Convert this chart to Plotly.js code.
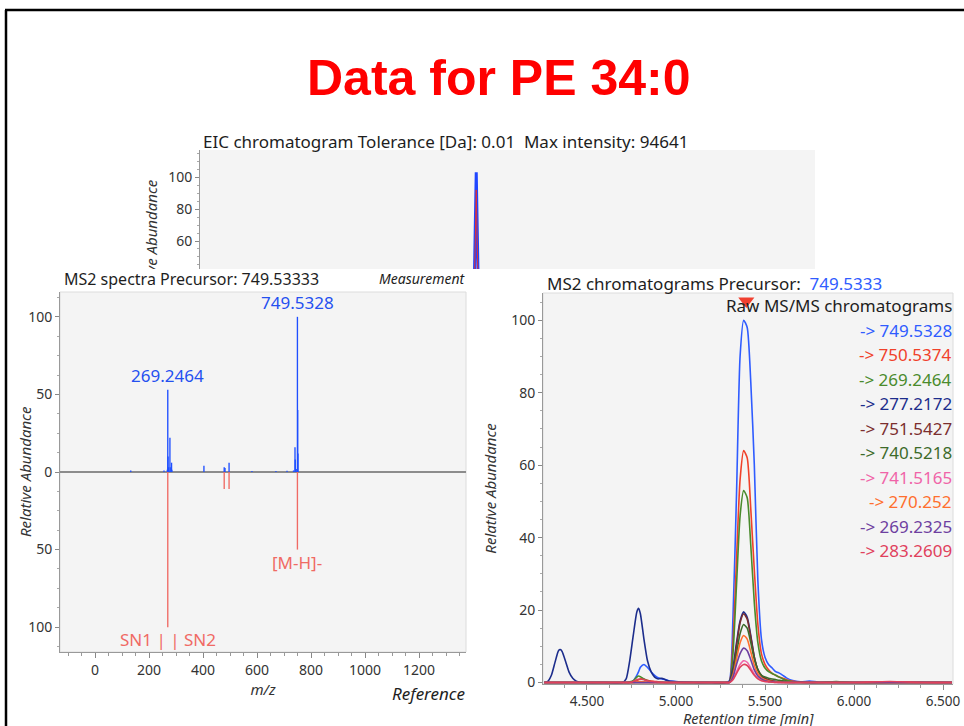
<!DOCTYPE html>
<html><head><meta charset="utf-8">
<script src="https://cdn.plot.ly/plotly-3.0.1.min.js"></script>
<style>
html,body{margin:0;padding:0;background:#fff;width:964px;height:726px;overflow:hidden}
#eic{position:absolute;left:0;top:0;width:964px;height:269px;overflow:hidden}
#eicplot{width:964px;height:726px}
#main{position:absolute;left:0;top:0;width:964px;height:726px}
</style></head><body>
<div id="eic"><div id="eicplot"></div></div>
<div id="main"></div>
<script>
// ---------- DATA ----------
const mainTitle = 'Data for PE 34:0';
const eicTitle = 'EIC chromatogram Tolerance [Da]: 0.01  Max intensity: 94641';
const eicRt   = [0, 5.30, 5.35, 5.39, 5.43, 5.48, 12];
const eicBlue = [0, 0, 30, 103, 30, 0, 0];
const eicRed  = [0, 0, 25, 92, 25, 0, 0];
const eicTicks = [60, 80, 100];

const spectraTitle = 'MS2 spectra Precursor: 749.53333';
const measMz  = [132.1, 255.23, 267.5, 269.2464, 270.25, 271.25, 277.2172, 278.22, 283.2609, 284.27, 403.2, 478.3, 481.3, 496.3, 581, 670, 711, 735, 740.5218, 741.52, 745, 749.5328, 750.5374, 751.5427];
const measInt = [1, 1, 1.5, 53, 10, 3, 22, 3, 6, 1.5, 4, 3, 2.5, 6, 0.7, 0.7, 0.8, 1, 16, 8, 2, 100, 40, 12];
const refMz   = [269.2464, 478.3, 496.3, 749.5328];
const refInt  = [-100, -11, -11, -50];
const peakLabelMz  = [269.2464, 749.5328];
const peakLabelInt = [53, 100];
const peakLabelTxt = ['269.2464', '749.5328'];
const refLabels = [{mz: 749.5328, y: -58, text: '[M-H]-'}, {mz: 269.2464, y: -108, text: 'SN1 | | SN2'}];
const spectraTickVals = [-100, -50, 0, 50, 100];
const spectraTickText = ['100', '50', '0', '50', '100'];

const chromTitle = 'MS2 chromatograms Precursor:  ';
const precursor = '749.5333';
const precursorRt = 5.395;
const rt = [4.26,4.28,4.30,4.32,4.34,4.35,4.36,4.38,4.40,4.42,4.44,4.46,4.50,
            4.60,4.70,
            4.72,4.74,4.76,4.78,4.79,4.80,4.82,4.84,4.86,4.88,4.90,4.92,4.94,4.96,
            5.00,5.10,5.20,5.28,
            5.30,5.32,5.34,5.36,5.38,5.40,5.42,5.44,5.46,5.48,5.50,5.52,5.54,5.56,5.58,5.60,5.62,5.65,
            5.70,5.75,5.80,5.90,6.00,6.20,6.40,6.55];
const s749 = [0,0,0,0,0,0,0,0,0,0,0,0,0, 0,0,
  0,0,0.5,2,3,4.2,5,4.2,3,2,1.3,1,0.8,0.5, 0.3,0.1,0,0,
  0.5,18,52,90,100,98,83,60,28,12,7,5,4,3,2.6,2,1.3,0.6, 0.2,0.4,0.1,0.1,0,0.2,0.1,0];
const s750 = [0,0,0,0,0,0,0,0,0,0,0,0,0, 0,0,
  0,0,0.2,0.5,0.8,1,0.9,0.6,0.4,0.3,0.2,0.1,0,0, 0,0,0,0,
  0.2,11,34,56,64,62,48,31,16,8,5,3.5,2.5,2,1.5,1.2,0.8,0.4, 0.1,0,0,0,0,0,0,0];
const s269a = [0,0,0,0,0,0,0,0,0,0,0,0,0, 0,0,
  0,0.2,0.5,1.5,1.8,1.6,1,0.5,0.2,0.1,0,0,0,0, 0,0,0,0,
  0.1,8,27,46,53,51,38,22,11,6,4,3,2.5,2,1.5,1,0.6,0.3, 0.1,0,0,0.3,0,0,0,0];
const s277 = [0,0.3,2,5.5,8.8,9.1,8.6,5.8,2.8,1.2,0.4,0.1,0, 0,0,
  1,6,13,19.5,20.5,19,12,6,3,1.5,1,1.2,0.8,0.4, 0.2,0,0,0,
  0.3,4,11,17,19.5,18,13,7,3.5,1.8,1,0.6,0.4,0.3,0.2,0.2,0.1,0, 0.2,0,0,0,0,0,0,0];
const s751 = [0,0,0,0,0,0,0,0,0,0,0,0,0, 0,0,
  0,0,0,0,0,0,0,0,0,0,0,0,0,0, 0,0,0,0,
  0.1,3,10,16.5,19,17.5,12.5,7,3.5,2,1.2,0.8,0.5,0.3,0.2,0.1,0,0, 0,0,0,0,0,0,0,0];
const s740 = [0,0,0,0,0,0,0,0,0,0,0,0,0, 0,0,
  0,0,0,0,0,0,0,0,0,0,0,0,0,0, 0,0,0,0,
  0.1,2.5,8,13.5,16,15,11,6.5,3.5,2,1.5,1.2,1,0.8,0.6,0.5,0.3,0.1, 0,0,0,0,0,0,0,0];
const s741 = [0,0,0,0,0,0,0,0,0,0,0,0,0, 0,0,
  0,0,0,0,0,0,0,0,0,0,0,0,0,0, 0,0,0,0,
  0,1,3,5,6,5.6,4,2.3,1.2,0.6,0.3,0.2,0.1,0,0,0,0,0, 0,0,0,0,0,0,0,0];
const s270 = [0,0,0,0,0,0,0,0,0,0,0,0,0, 0,0,
  0,0,0,0.2,0.3,0.3,0.2,0.1,0,0,0,0,0,0, 0,0,0,0,
  0,2,6.5,11,13,12,8.5,4.8,2.5,1.3,0.8,0.5,0.3,0.2,0.1,0,0,0, 0,0,0,0,0,0,0,0];
const s269b = [0,0,0,0,0,0,0,0,0,0,0,0,0, 0,0,
  0,0,0,0,0,0,0,0,0,0,0,0,0,0, 0,0,0,0,
  0,1.5,5,8,9.5,8.8,6.3,3.5,1.8,1,0.5,0.3,0.2,0.1,0,0,0,0, 0,0,0,0,0,0,0,0];
const s283 = [0,0,0,0,0,0,0,0,0,0,0,0,0, 0,0,
  0,0,0.3,0.8,0.9,1,0.8,0.5,0.3,0.2,0.1,0,0,0, 0,0,0,0,
  0,0.8,2.5,4.2,5,4.7,3.4,2,1,0.5,0.3,0.2,0.1,0,0,0,0,0, 0,0,0,0,0,0.3,0,0];
const chromNames  = ['749.5328','750.5374','269.2464','277.2172','751.5427','740.5218','741.5165','270.252','269.2325','283.2609'];
const chromSeries = [s749, s750, s269a, s277, s751, s740, s741, s270, s269b, s283];
const chromColors = ['#2f5cff','#f0412a','#4a8b2c','#1c2d8c','#7b2e2e','#3d6b2a','#f064a8','#ff6f2e','#6e3fa0','#e0405c'];

// ---------- STYLE ----------
const W = 964, H = 726;
const px = x => x / W;
const py = y => 1 - y / H;
const FONT = 'Noto Sans, Open Sans, sans-serif';
const TXT = '#1e1e1e';
const BG = '#f4f4f4';
const tickF = {family: FONT, size: 14, color: '#333'};
const TF = 17;

// ---------- EIC (clipped top panel) ----------
Plotly.newPlot('eicplot', [
  {type: 'scatter', mode: 'lines', x: eicRt, y: eicBlue, line: {color: '#1f46ff', width: 3}, hoverinfo: 'skip'},
  {type: 'scatter', mode: 'lines', x: eicRt, y: eicRed, line: {color: '#e53030', width: 1}, hoverinfo: 'skip'}
], {
  width: W, height: H, margin: {l: 0, r: 0, t: 0, b: 0},
  paper_bgcolor: '#fff', plot_bgcolor: BG, showlegend: false,
  xaxis: {domain: [px(200), px(815)], range: [0, 12], showticklabels: false, showgrid: false, zeroline: false, showline: false, ticks: ''},
  yaxis: {domain: [py(340), py(150)], range: [-2, 117], tickmode: 'array', tickvals: eicTicks, ticks: 'outside', ticklen: 4, tickcolor: '#888',
          minor: {dtick: 5, tick0: 0, ticks: 'outside', ticklen: 2.5, tickcolor: '#aaa'},
          showline: true, linecolor: '#999', showgrid: false, zeroline: false, tickfont: tickF,
          title: {text: '<i>Relative Abundance</i>', font: {family: FONT, size: 15, color: '#333'}, standoff: 6}},
  annotations: [{xref: 'paper', yref: 'paper', x: px(201), y: py(141), xanchor: 'left', yanchor: 'middle', showarrow: false,
                 text: eicTitle, font: {family: FONT, size: TF, color: TXT}}]
}, {staticPlot: true});

// ---------- MAIN ----------
const traces = [];
traces.push({type: 'bar', x: measMz, y: measInt, width: 5, marker: {color: '#1f4fff', line: {width: 0}}, xaxis: 'x', yaxis: 'y', hoverinfo: 'skip'});
traces.push({type: 'bar', x: refMz, y: refInt, width: 5, marker: {color: '#f06a64', line: {width: 0}}, xaxis: 'x', yaxis: 'y', hoverinfo: 'skip'});
chromSeries.forEach((s, i) => {
  traces.push({type: 'scatter', mode: 'lines', x: rt, y: s, xaxis: 'x2', yaxis: 'y2',
               line: {color: chromColors[i], width: 1.6, shape: 'spline', smoothing: 0.6}, hoverinfo: 'skip'});
});
traces.push({type: 'scatter', mode: 'markers', x: [precursorRt], y: [105.3], xaxis: 'x2', yaxis: 'y2', cliponaxis: false,
             marker: {symbol: 'triangle-down', size: 14, color: '#f04030'}, hoverinfo: 'skip'});

const ann = [];
ann.push({xref: 'paper', yref: 'paper', x: px(498), y: py(78), xanchor: 'center', yanchor: 'middle', showarrow: false,
          text: '<b>' + mainTitle + '</b>', font: {family: 'Liberation Sans, Arial, sans-serif', size: 50, color: '#ff0000'}});
ann.push({xref: 'paper', yref: 'paper', x: px(62), y: py(279), xanchor: 'left', yanchor: 'middle', showarrow: false,
          text: spectraTitle, font: {family: FONT, size: 16, color: TXT}});
ann.push({xref: 'paper', yref: 'paper', x: px(467), y: py(279), xanchor: 'right', yanchor: 'middle', showarrow: false,
          text: '<i>Measurement</i>', font: {family: FONT, size: 14, color: TXT}});
ann.push({xref: 'paper', yref: 'paper', x: px(467), y: py(693), xanchor: 'right', yanchor: 'middle', showarrow: false,
          text: '<i>Reference</i>', font: {family: FONT, size: 17, color: TXT}});
ann.push({xref: 'paper', yref: 'paper', x: px(25), y: py(472), xanchor: 'center', yanchor: 'middle', showarrow: false, textangle: -90,
          text: '<i>Relative Abundance</i>', font: {family: FONT, size: 15, color: '#333'}});
ann.push({xref: 'paper', yref: 'paper', x: px(748), y: py(718), xanchor: 'center', yanchor: 'middle', showarrow: false,
          text: '<i>Retention time [min]</i>', font: {family: FONT, size: 14.5, color: '#333'}});
peakLabelMz.forEach((m, i) => ann.push({xref: 'x', yref: 'y', x: m, y: peakLabelInt[i] + 0.5, xanchor: 'center', yanchor: 'bottom', showarrow: false,
          text: peakLabelTxt[i], font: {family: FONT, size: 17, color: '#2450f0'}}));
refLabels.forEach(r => ann.push({xref: 'x', yref: 'y', x: r.mz, y: r.y, xanchor: 'center', yanchor: 'middle', showarrow: false,
          text: r.text, font: {family: FONT, size: 17, color: '#f06a64'}}));
ann.push({xref: 'paper', yref: 'paper', x: px(545), y: py(283), xanchor: 'left', yanchor: 'middle', showarrow: false,
          text: chromTitle + '<span style="color:#2f5cff">' + precursor + '</span>', font: {family: FONT, size: TF, color: TXT}});
ann.push({xref: 'paper', yref: 'paper', x: px(954), y: py(305), xanchor: 'right', yanchor: 'middle', showarrow: false,
          text: 'Raw MS/MS chromatograms', font: {family: FONT, size: TF, color: TXT}});
chromNames.forEach((n, i) => ann.push({xref: 'paper', yref: 'paper', x: px(954), y: py(330 + i * 24.5), xanchor: 'right', yanchor: 'middle', showarrow: false,
          text: '-&gt; ' + n, font: {family: FONT, size: TF, color: chromColors[i]}}));

const shapes = [
  {type: 'line', xref: 'paper', yref: 'paper', x0: px(5), x1: 1.01, y0: py(10), y1: py(10), line: {color: '#000', width: 2.5}},
  {type: 'line', xref: 'paper', yref: 'paper', x0: px(6), x1: px(6), y0: py(10), y1: -0.01, line: {color: '#000', width: 2.5}},
  {type: 'rect', xref: 'x domain', yref: 'y domain', x0: 0, x1: 1, y0: 0, y1: 1, line: {color: '#dcdcdc', width: 1}, layer: 'below'},
  {type: 'rect', xref: 'x2 domain', yref: 'y2 domain', x0: 0, x1: 1, y0: 0, y1: 1, line: {color: '#dcdcdc', width: 1}, layer: 'below'}
];

const axTitleF = {family: FONT, size: 15, color: '#333'};
Plotly.newPlot('main', traces, {
  width: W, height: H, margin: {l: 0, r: 0, t: 0, b: 0},
  paper_bgcolor: 'rgba(0,0,0,0)', plot_bgcolor: BG, showlegend: false, barmode: 'overlay',
  xaxis: {domain: [px(60), px(466)], range: [-130, 1374], dtick: 200, tick0: 0, ticks: 'outside', ticklen: 5, tickcolor: '#888',
          minor: {dtick: 50, tick0: 0, ticks: 'outside', ticklen: 3, tickcolor: '#999'},
          showline: true, linecolor: '#999', showgrid: false, zeroline: false, tickfont: tickF,
          title: {text: '<i>m/z</i>', font: axTitleF, standoff: 4}, anchor: 'y'},
  yaxis: {domain: [py(652), py(292)], range: [-116, 116], tickmode: 'array', tickvals: spectraTickVals, ticktext: spectraTickText,
          ticks: 'outside', ticklen: 4, tickcolor: '#888',
          minor: {dtick: 12.5, tick0: 0, ticks: 'outside', ticklen: 2.5, tickcolor: '#aaa'},
          showline: true, linecolor: '#999', showgrid: false, zeroline: true, zerolinecolor: '#8c8c8c', zerolinewidth: 2, tickfont: tickF,
          anchor: 'x'},
  xaxis2: {domain: [px(543), px(953)], range: [4.253, 6.556], dtick: 0.5, tick0: 4.5, tickformat: '.3f', ticks: 'outside', ticklen: 5, tickcolor: '#888',
          minor: {dtick: 0.125, tick0: 4.5, ticks: 'outside', ticklen: 3, tickcolor: '#999'},
          showline: true, linecolor: '#999', showgrid: false, zeroline: false, tickfont: {family: FONT, size: 13.5, color: '#333'}, anchor: 'y2'},
  yaxis2: {domain: [py(684), py(293)], range: [-0.4, 107.5], dtick: 20, tick0: 0, ticks: 'outside', ticklen: 4, tickcolor: '#888',
          minor: {dtick: 5, tick0: 0, ticks: 'outside', ticklen: 2.5, tickcolor: '#aaa'},
          showline: true, linecolor: '#999', showgrid: false, zeroline: false, tickfont: tickF,
          title: {text: '<i>Relative Abundance</i>', font: axTitleF, standoff: 10}, anchor: 'x2'},
  annotations: ann,
  shapes: shapes
}, {staticPlot: true});
</script>
</body></html>
